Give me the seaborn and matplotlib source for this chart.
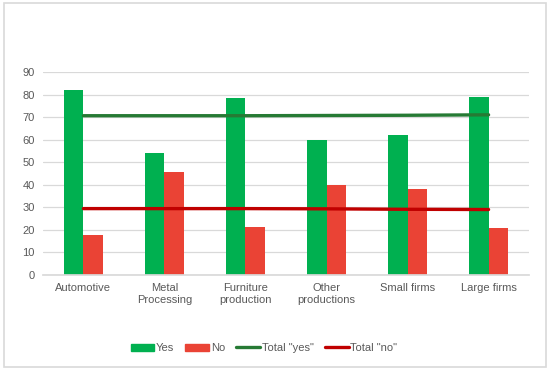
import matplotlib
matplotlib.use("Agg")
import matplotlib.pyplot as plt
import pandas as pd
import seaborn as sns
from matplotlib.patches import Patch, Rectangle
from matplotlib.lines import Line2D

categories = ["Automotive", "Metal\nProcessing", "Furniture\nproduction",
              "Other\nproductions", "Small firms", "Large firms"]
yes_values = [82.0, 54.0, 78.6, 60.0, 62.0, 79.0]
no_values = [17.7, 45.5, 21.4, 40.0, 38.0, 20.7]
total_yes = [70.6, 70.6, 70.6, 70.7, 70.8, 71.0]
total_no = [29.4, 29.4, 29.4, 29.3, 29.1, 29.0]

GREEN = "#00B050"
RED = "#EA4335"
DARK_GREEN = "#267A34"
DARK_RED = "#C00000"
GREY = "#595959"

df = pd.DataFrame({
    "category": categories * 2,
    "value": yes_values + no_values,
    "answer": ["Yes"] * len(categories) + ["No"] * len(categories),
})

sns.set_theme(style="white")
plt.rcParams["font.family"] = ["Liberation Sans", "DejaVu Sans"]

fig = plt.figure(figsize=(5.5, 3.71), dpi=100)
ax = fig.add_axes([0.078, 0.259, 0.884, 0.547])

sns.barplot(data=df, x="category", y="value", hue="answer", order=categories,
            hue_order=["Yes", "No"], palette=[GREEN, RED], width=0.48,
            saturation=1, linewidth=0, ax=ax, legend=False)

x = list(range(len(categories)))
ax.plot(x, total_yes, color=DARK_GREEN, lw=2.4, zorder=5)
ax.plot(x, total_no, color=DARK_RED, lw=2.4, zorder=5)

ax.set_xlim(-0.5, len(categories) - 0.5)
ax.set_ylim(0, 90)
ax.set_yticks(range(0, 91, 10))
ax.yaxis.grid(True, color="#D9D9D9", lw=0.9)
ax.set_axisbelow(True)
for s in ["top", "right", "left"]:
    ax.spines[s].set_visible(False)
ax.spines["bottom"].set_color("#D9D9D9")
ax.set_xlabel("")
ax.set_ylabel("")
ax.tick_params(axis="both", length=0, labelsize=8, colors=GREY, pad=6)

handles = [
    Patch(color=GREEN, label="Yes"),
    Patch(color=RED, label="No"),
    Line2D([], [], color=DARK_GREEN, lw=2.4, label='Total "yes"'),
    Line2D([], [], color=DARK_RED, lw=2.4, label='Total "no"'),
]
leg = fig.legend(handles=handles, loc="center", bbox_to_anchor=(0.48, 0.062),
                 ncol=4, frameon=False, fontsize=8, handlelength=2.15,
                 handleheight=0.6, handletextpad=0.15, columnspacing=1.0)
for t in leg.get_texts():
    t.set_color(GREY)

fig.patches.append(Rectangle((0.007, 0.012), 0.985, 0.98, transform=fig.transFigure,
                             fill=False, edgecolor="#D9D9D9", lw=1.2))

fig.savefig("out.png", dpi=100)
